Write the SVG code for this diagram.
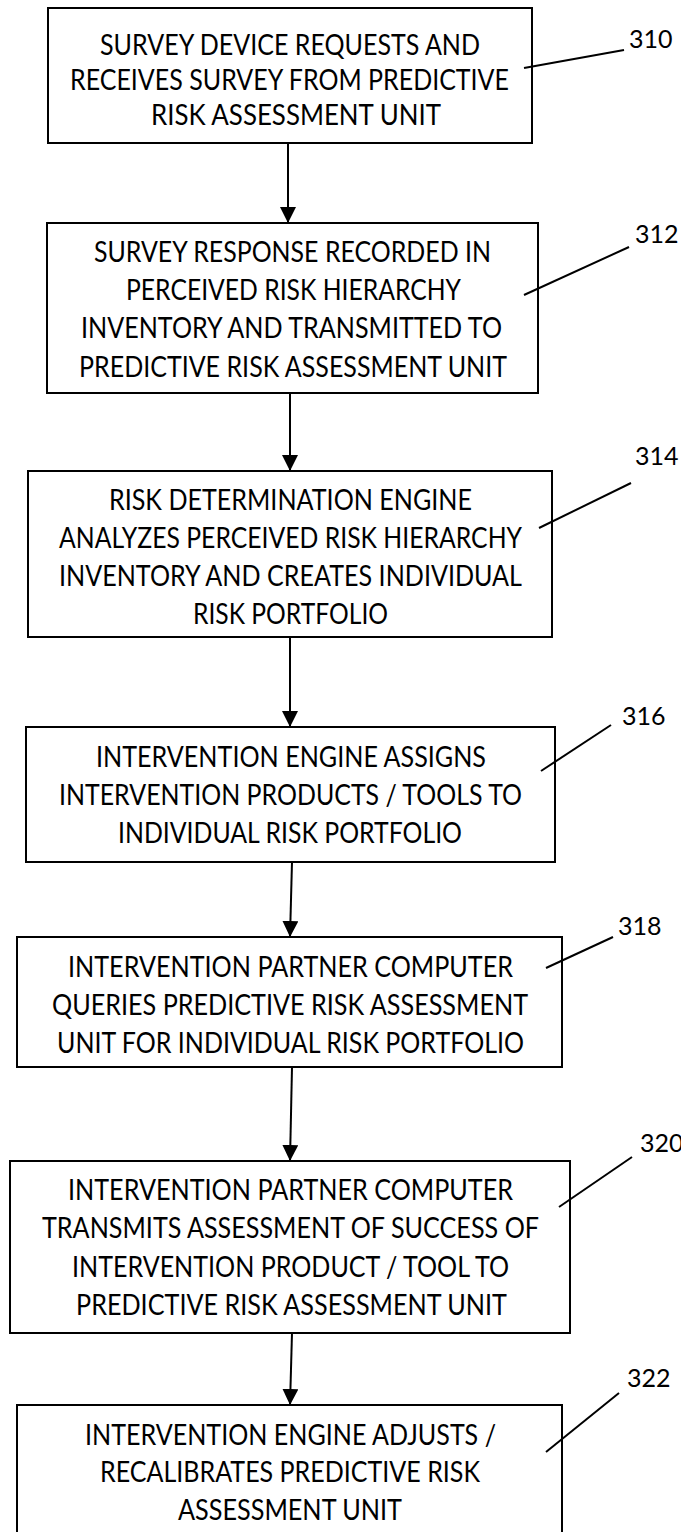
<svg xmlns="http://www.w3.org/2000/svg" width="681" height="1532" viewBox="0 0 681 1532">
<style>
.box{fill:#fff;stroke:#000;stroke-width:2}
.t{font-family:Lato,"Liberation Sans",sans-serif;font-size:28px;fill:#000}
.lbl{font-family:Lato,"Liberation Sans",sans-serif;font-size:25px;fill:#000}
.lead{stroke:#000;stroke-width:2;fill:none}
.conn{stroke:#000;stroke-width:2;fill:none;marker-end:url(#ah)}
</style>
<defs>
<marker id="ah" markerUnits="userSpaceOnUse" markerWidth="18" markerHeight="16" viewBox="0 0 18 16" refX="16" refY="8" orient="auto">
<path d="M0,0 L16,8 L0,16 z" fill="#000"/>
</marker>
</defs>
<rect width="681" height="1532" fill="#fff"/>
<g id="connectors">
<line class="conn" x1="288" y1="143" x2="288" y2="223"/>
<line class="conn" x1="290" y1="393" x2="290" y2="471"/>
<line class="conn" x1="290" y1="637" x2="290" y2="727"/>
<line class="conn" x1="292" y1="862" x2="290" y2="937"/>
<line class="conn" x1="292" y1="1067" x2="290" y2="1161"/>
<line class="conn" x1="292" y1="1333" x2="290" y2="1405"/>
</g>
<g id="n310">
<rect class="box" x="48" y="8" width="484" height="135"/>
<text class="t" x="100" y="55" textLength="380" lengthAdjust="spacingAndGlyphs">SURVEY DEVICE REQUESTS AND</text>
<text class="t" x="70" y="90" textLength="439" lengthAdjust="spacingAndGlyphs">RECEIVES SURVEY FROM PREDICTIVE</text>
<text class="t" x="151" y="125" textLength="290" lengthAdjust="spacingAndGlyphs">RISK ASSESSMENT UNIT</text>
<line class="lead" x1="524" y1="68" x2="624" y2="50"/>
<text class="lbl" x="629" y="48">310</text>
</g>
<g id="n312">
<rect class="box" x="47" y="223" width="491" height="170"/>
<text class="t" x="94" y="262" textLength="397" lengthAdjust="spacingAndGlyphs">SURVEY RESPONSE RECORDED IN</text>
<text class="t" x="126" y="300" textLength="335" lengthAdjust="spacingAndGlyphs">PERCEIVED RISK HIERARCHY</text>
<text class="t" x="81" y="338" textLength="421" lengthAdjust="spacingAndGlyphs">INVENTORY AND TRANSMITTED TO</text>
<text class="t" x="79" y="377" textLength="428" lengthAdjust="spacingAndGlyphs">PREDICTIVE RISK ASSESSMENT UNIT</text>
<line class="lead" x1="524" y1="295" x2="629" y2="247"/>
<text class="lbl" x="635" y="243">312</text>
</g>
<g id="n314">
<rect class="box" x="28" y="471" width="524" height="166"/>
<text class="t" x="109" y="510" textLength="363" lengthAdjust="spacingAndGlyphs">RISK DETERMINATION ENGINE</text>
<text class="t" x="59" y="548" textLength="463" lengthAdjust="spacingAndGlyphs">ANALYZES PERCEIVED RISK HIERARCHY</text>
<text class="t" x="59" y="586" textLength="463" lengthAdjust="spacingAndGlyphs">INVENTORY AND CREATES INDIVIDUAL</text>
<text class="t" x="193" y="624" textLength="195" lengthAdjust="spacingAndGlyphs">RISK PORTFOLIO</text>
<line class="lead" x1="539" y1="528" x2="631" y2="483"/>
<text class="lbl" x="635" y="465">314</text>
</g>
<g id="n316">
<rect class="box" x="26" y="727" width="529" height="135"/>
<text class="t" x="96" y="767" textLength="390" lengthAdjust="spacingAndGlyphs">INTERVENTION ENGINE ASSIGNS</text>
<text class="t" x="59" y="805" textLength="463" lengthAdjust="spacingAndGlyphs">INTERVENTION PRODUCTS / TOOLS TO</text>
<text class="t" x="118" y="843" textLength="344" lengthAdjust="spacingAndGlyphs">INDIVIDUAL RISK PORTFOLIO</text>
<line class="lead" x1="541" y1="771" x2="611" y2="725"/>
<text class="lbl" x="622" y="725">316</text>
</g>
<g id="n318">
<rect class="box" x="17" y="937" width="545" height="130"/>
<text class="t" x="68" y="977" textLength="445" lengthAdjust="spacingAndGlyphs">INTERVENTION PARTNER COMPUTER</text>
<text class="t" x="52" y="1015" textLength="476" lengthAdjust="spacingAndGlyphs">QUERIES PREDICTIVE RISK ASSESSMENT</text>
<text class="t" x="57" y="1053" textLength="467" lengthAdjust="spacingAndGlyphs">UNIT FOR INDIVIDUAL RISK PORTFOLIO</text>
<line class="lead" x1="546" y1="968" x2="613" y2="937"/>
<text class="lbl" x="618" y="935">318</text>
</g>
<g id="n320">
<rect class="box" x="10" y="1161" width="560" height="172"/>
<text class="t" x="68" y="1200" textLength="445" lengthAdjust="spacingAndGlyphs">INTERVENTION PARTNER COMPUTER</text>
<text class="t" x="42" y="1238" textLength="497" lengthAdjust="spacingAndGlyphs">TRANSMITS ASSESSMENT OF SUCCESS OF</text>
<text class="t" x="72" y="1277" textLength="437" lengthAdjust="spacingAndGlyphs">INTERVENTION PRODUCT / TOOL TO</text>
<text class="t" x="76" y="1315" textLength="431" lengthAdjust="spacingAndGlyphs">PREDICTIVE RISK ASSESSMENT UNIT</text>
<line class="lead" x1="559" y1="1207" x2="632" y2="1157"/>
<text class="lbl" x="640" y="1152">320</text>
</g>
<g id="n322">
<rect class="box" x="17" y="1405" width="545" height="140"/>
<text class="t" x="85" y="1445" textLength="411" lengthAdjust="spacingAndGlyphs">INTERVENTION ENGINE ADJUSTS /</text>
<text class="t" x="100" y="1482" textLength="380" lengthAdjust="spacingAndGlyphs">RECALIBRATES PREDICTIVE RISK</text>
<text class="t" x="178" y="1520" textLength="224" lengthAdjust="spacingAndGlyphs">ASSESSMENT UNIT</text>
<line class="lead" x1="546" y1="1452" x2="619" y2="1393"/>
<text class="lbl" x="627" y="1387">322</text>
</g>
</svg>
